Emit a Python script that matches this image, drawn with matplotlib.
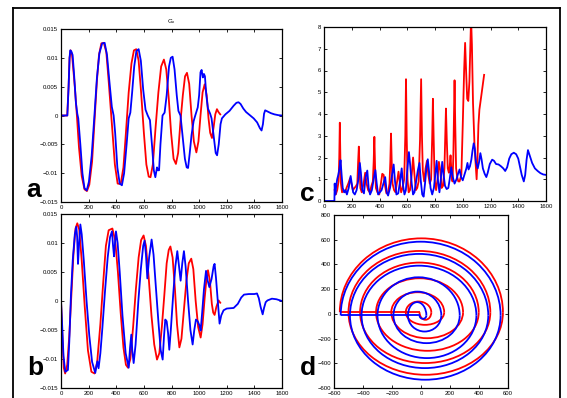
import numpy as np
import matplotlib
matplotlib.use('Agg')
import matplotlib.pyplot as plt
from matplotlib.patches import Arc
from matplotlib.lines import Line2D

plt.rcParams['font.family'] = ['Liberation Sans', 'DejaVu Sans']
plt.rcParams['axes.unicode_minus'] = True

RED = '#ff0000'
BLUE = '#0000ff'

# ---- panel a : G_x (values in units of 1e-3) ----
a_red_t = [0, 45, 55, 62, 70, 80, 100, 115, 130, 150, 170, 188, 205, 225, 245, 260, 275, 292, 310, 328,
           345, 370, 390, 410, 432, 452, 470, 490, 510, 528, 545, 562, 580, 600, 618, 635, 648, 665, 685,
           705, 725, 745, 762, 780, 797, 815, 832, 848, 865, 882, 898, 912, 928, 945, 962, 980, 995, 1010,
           1025, 1040, 1055, 1068, 1080, 1093, 1105, 1117, 1129, 1140, 1153]
a_red_v = [0, 0, 5, 10, 11.3, 10.5, 5, 0, -5.5, -10.5, -12.8, -13.1, -12, -8, 0, 6, 10.5, 12.5, 12.6, 11,
           6, -2, -8.5, -11.8, -11.9, -9, -3, 4, 9, 11.3, 11.5, 9.5, 4, -3, -8.5, -10.6, -10.7, -8.5, -2,
           4, 8.5, 9.7, 8, 3, -3, -7.5, -8.4, -6.5, -1, 3.5, 6.8, 7.4, 5.5, 0, -4.5, -6.4, -4.5, 0,
           4, 5.4, 3.5, -0.5, -3, -3.9, -2, 0.2, 1.1, 0.6, 0.2]
a_blue_t = [0, 46, 55, 62, 67, 75, 84, 95, 108, 118, 125, 140, 155, 170, 186, 202, 222, 242, 260, 278,
            298, 316, 333, 350, 368, 381, 392, 408, 425, 441, 457, 475, 490, 502, 515, 530, 546, 562, 578,
            595, 612, 628, 644, 660, 672, 683, 695, 702, 710, 720, 735, 750, 765, 782, 795, 808, 822, 838,
            850, 865, 880, 897, 910, 920, 932, 945, 960, 972, 990, 1000, 1010, 1018, 1027, 1035, 1042,
            1052, 1064, 1080, 1090, 1105, 1120, 1130, 1142, 1155, 1165, 1190, 1220, 1250, 1270, 1285,
            1300, 1320, 1340, 1370, 1395, 1420, 1440, 1452, 1462, 1470, 1478, 1495, 1520, 1545, 1575, 1600]
a_blue_v = [0, 0, 5, 10, 11.3, 11.1, 10.5, 7, 2.2, 0.3, -0.5, -5, -10, -12.6, -13, -11.5, -7, 0, 6.5, 10.8,
            12.5, 12.6, 10.5, 6, 1.5, 0, -3, -9, -11.8, -12.1, -10, -5, -0.5, 0.5, 4, 8.5, 11.2, 11.5, 9.5,
            4.5, 1, 0, -0.8, -5.5, -9.5, -10.7, -9, -9.5, -9.5, -5, 0, 0.5, 3.5, 8.5, 10, 10.2, 8, 3.5,
            0.8, 0, -3.5, -7.5, -9, -9.1, -6.5, -3.4, -1, 0, 1.4, 3.5, 7.5, 7.9, 6.6, 7.2, 6.8,
            3.5, 1.2, 0.3, -0.5, -3.5, -6.5, -6.9, -5, -1.5, -0.5, 0.2, 0.8, 1.7, 2.2, 2.3,
            2.0, 1.2, 0.6, 0, -0.5, -1.2, -2.2, -2.6, -1.5, 0.3, 0.9, 0.7, 0.4, 0.2, 0.05, 0]

# ---- panel b (units of 1e-3) ----
b_red_t = [0, 10, 20, 30, 45, 60, 75, 90, 105, 118, 132, 150, 172, 195, 220, 243, 262, 285, 305, 325,
           345, 372, 392, 412, 432, 452, 470, 485, 502, 522, 542, 562, 580, 598, 615, 635, 655, 675, 695,
           712, 730, 748, 765, 780, 792, 808, 825, 840, 857, 872, 890, 908, 925, 943, 958, 975, 993, 1011,
           1025, 1040, 1052, 1064, 1078, 1092, 1102, 1112, 1125, 1141, 1153]
b_red_v = [0, -6, -11.5, -12.5, -11, -6, 1, 8, 12.5, 13.4, 12.3, 7, -1, -8.5, -12.2, -12.5, -10.5, -4, 3, 9.5,
           12.2, 12.5, 10.5, 5, -2, -8, -11, -11.5, -10, -4.5, 2, 7.5, 10.5, 11.3, 9.5, 4, -2.5, -7.5, -10.1,
           -9, -4.5, 1, 6.5, 8.8, 9.4, 7.5, 2, -4, -8, -6.5, -1.5, 3.5, 6.5, 7.3, 5.5, 0, -4.5, -6.3,
           -4, 0.5, 3.5, 5.3, 3.5, -0.5, -2, -2.4, -1, 0.1, -0.3]
b_blue_t = [0, 8, 18, 31, 50, 60, 72, 85, 100, 111, 117, 123, 130, 140, 150, 165, 185, 205, 225, 248, 263,
            272, 285, 300, 318, 338, 355, 369, 377, 384, 391, 398, 410, 425, 445, 468, 490, 500, 509, 516,
            526, 540, 560, 578, 595, 605, 615, 625, 638, 656, 670, 685, 705, 722, 736, 746, 755, 765, 775,
            784, 795, 812, 828, 842, 852, 866, 878, 890, 902, 920, 937, 953, 965, 977, 990, 1002, 1011,
            1022, 1035, 1050, 1062, 1074, 1090, 1105, 1112, 1122, 1135, 1148, 1160, 1177, 1200, 1250,
            1280, 1305, 1325, 1360, 1400, 1419, 1432, 1445, 1460, 1470, 1482, 1495, 1527, 1560, 1600]
b_blue_v = [0, -4, -9.5, -12.2, -11.9, -7, 1, 7, 11.5, 12.8, 11, 6.4, 9.5, 13.2, 11.5, 7, 0, -6, -10.5, -12.4, -10.4,
            -11.6, -9, -4.5, 1.5, 7.5, 11, 12, 9.5, 7.7, 10, 12, 10, 5, -2.5, -9, -11.5, -8, -5.8, -8.5,
            -10.7, -7.5, 0, 5.5, 9.5, 10.4, 8, 3.9, 7.5, 10.6, 8, 3, -3.5, -8.5, -10.1, -6, -3.2, -3.5, -5.5,
            -8.4, -5, 1, 6, 8.6, 6.5, 3.5, 6.5, 8.6, 6, 0, -5, -7.5, -5, -3.2, -3.5, -4.2, -5.1,
            -2, 2, 5.2, 3.5, 2.4, 3.8, 6, 6.4, 4, 0, -3.9, -2.5, -1.6, -1.3, -1.2,
            -0.5, 0.6, 1.1, 1.2, 1.2, 1.3, 0.5, -1, -2.3, -1.2, -0.2, 0.1, 0.4, 0.3, 0]

# ---- panel c ----
c_red_t = [77, 85, 95, 105, 110, 114, 118, 122, 130, 142, 152, 162, 175, 188, 198, 208, 220, 232, 240, 246,
           251, 256, 262, 272, 285, 297, 307, 318, 330, 342, 352, 358, 363, 368, 374, 385, 398, 410, 420,
           430, 440, 450, 462, 472, 478, 483, 488, 494, 505, 515, 527, 537, 547, 556, 566, 578, 586, 591,
           596, 602, 610, 620, 632, 642, 652, 662, 672, 682, 692, 700, 706, 712, 722, 732, 742, 752, 762,
           772, 780, 785, 790, 797, 808, 818, 828, 838, 848, 858, 868, 874, 879, 885, 892, 900, 906, 912,
           918, 926, 932, 937, 941, 946, 952, 960, 968, 977, 990, 1000, 1010, 1017, 1024, 1032, 1040,
           1048, 1055, 1060, 1066, 1074, 1085, 1100, 1106, 1113, 1120, 1135, 1154]
c_red_v = [0.5, 0.3, 0.5, 0.9, 2.0, 3.6, 2.0, 0.8, 0.4, 0.5, 0.4, 0.6, 0.8, 1.05, 0.8, 0.5, 0.6, 0.7, 0.8, 1.8,
           2.5, 1.5, 0.6, 0.4, 0.8, 1.3, 0.8, 0.5, 0.4, 0.7, 0.9, 1.8, 2.95, 1.6, 0.6, 0.4, 0.3, 0.8, 1.25,
           1.2, 0.7, 0.35, 0.4, 0.8, 1.8, 3.1, 1.8, 0.8, 0.5, 0.4, 0.9, 1.35, 0.8, 0.4, 0.6, 1.0, 3.0, 5.6,
           3.0, 1.0, 0.4, 0.5, 1.2, 2.0, 1.2, 0.5, 0.6, 0.9, 2.8, 5.6, 3.0, 1.4, 0.9, 1.5, 1.85, 1.2, 0.8,
           1.0, 3.0, 4.7, 3.0, 1.0, 0.5, 1.0, 1.8, 1.4, 0.6, 0.7, 1.5, 3.0, 4.25, 2.8, 1.5, 1.3, 1.6, 2.1,
           1.4, 0.9, 2.0, 4.0, 5.55, 3.5, 1.5, 1.1, 0.9, 0.9, 1.2, 3.5, 6.0, 7.27, 6.0, 4.7, 4.6,
           5.5, 7.2, 8.4, 7.2, 4.5, 2.5, 1.0, 1.9, 3.5, 4.2, 4.9, 5.8]
c_blue_t = [0, 75, 77, 82, 88, 95, 103, 112, 119, 127, 135, 145, 155, 165, 178, 192, 200, 210, 222, 235, 248,
            258, 266, 276, 288, 300, 312, 322, 332, 345, 358, 370, 380, 390, 402, 415, 428, 441, 452, 462,
            476, 490, 502, 512, 522, 535, 548, 560, 570, 580, 590, 600, 612, 622, 632, 642, 652, 664, 676,
            688, 698, 708, 718, 728, 738, 748, 758, 768, 780, 792, 802, 812, 822, 832, 842, 852, 862, 872,
            884, 896, 906, 917, 928, 941, 955, 966, 977, 988, 1000, 1012, 1026, 1034, 1042, 1052, 1062,
            1070, 1079, 1087, 1095, 1108, 1118, 1127, 1136, 1145, 1158, 1170, 1180, 1195, 1212, 1225,
            1240, 1258, 1275, 1292, 1306, 1320, 1335, 1350, 1368, 1385, 1400, 1412, 1425, 1440, 1450,
            1460, 1470, 1482, 1500, 1520, 1540, 1560, 1580, 1600]
c_blue_v = [0, 0, 0.8, 0.3, 0.7, 1.0, 1.2, 1.5, 1.88, 1.2, 0.6, 0.4, 0.5, 0.3, 0.6, 1.15, 0.8, 0.4, 0.3, 0.5, 1.0,
            1.75, 1.3, 0.5, 0.35, 1.1, 1.4, 0.6, 0.3, 0.5, 1.0, 1.42, 0.8, 0.3, 0.4, 0.5, 0.8, 1.1, 0.4, 0.25,
            0.6, 1.2, 1.68, 0.9, 0.3, 0.35, 0.9, 1.5, 0.7, 0.3, 0.5, 1.4, 2.25, 1.6, 0.8, 0.3, 0.4, 0.9, 1.4,
            1.75, 0.9, 0.3, 0.2, 0.8, 1.5, 1.92, 1.3, 0.6, 0.3, 0.6, 1.2, 1.85, 0.9, 0.4, 1.0, 1.8, 1.2, 0.7,
            0.55, 0.6, 1.0, 1.55, 1.1, 0.8, 1.0, 1.25, 1.45, 1.1, 0.95, 1.2, 1.5, 1.75, 1.45, 1.6, 1.9,
            2.3, 2.65, 2.4, 1.8, 1.5, 1.8, 2.2, 1.9, 1.5, 1.25, 1.1, 1.3, 1.7, 1.9, 1.85,
            1.7, 1.68, 1.6, 1.5, 1.38, 1.55, 1.95, 2.15, 2.22, 2.15, 1.95, 1.6, 1.2, 0.9, 1.2,
            1.9, 2.34, 2.1, 1.75, 1.5, 1.38, 1.28, 1.22, 1.2]

# ---- panel d : spiral, read as axis crossings of each turn ----
# left / right crossings of the crossing line, top height and bottom depth of every turn
d_red_line_y = 13
d_red_left = [-560, -500, -420, -310, -205, -105]
d_red_right = [565, 478, 398, 290, 160, 71]
d_red_top = [598, 496, 402, 275, 162, 87]
d_red_bottom = [506, 411, 312, 210, 102, 61]
d_red_end = -10
d_blue_line_y = -13
d_blue_left = [-554, -490, -410, -300, -190, -90]
d_blue_right = [549, 464, 382, 267, 140, 37]
d_blue_top = [597, 498, 403, 309, 193, 108]
d_blue_bottom = [520, 426, 345, 224, 130, 27]
d_blue_end = -10

fig = plt.figure(figsize=(5.67, 3.98), dpi=100)
W, H = 567.0, 398.0


def px_axes(l, t, r, b):
    return fig.add_axes([l / W, 1 - b / H, (r - l) / W, (b - t) / H])


def style(ax):
    ax.tick_params(direction='in', length=2.2, width=0.6, labelsize=4.3, pad=2,
                   top=True, right=True, colors='k')
    for s in ax.spines.values():
        s.set_linewidth(0.9)


ax_a = px_axes(61, 29, 282, 202)
ax_b = px_axes(61, 214, 282, 388)
ax_c = px_axes(324, 27, 546, 201)
ax_d = px_axes(334, 215, 508, 388)

t_ticks = [0, 200, 400, 600, 800, 1000, 1200, 1400, 1600]
g_ticks = [0.015, 0.01, 0.005, 0, -0.005, -0.01, -0.015]
g_labels = ['0.015', '0.01', '0.005', '0', '\u22120.005', '\u22120.01', '\u22120.015']

for ax, rt, rv, bt, bv in [(ax_a, a_red_t, a_red_v, a_blue_t, a_blue_v),
                           (ax_b, b_red_t, b_red_v, b_blue_t, b_blue_v)]:
    ax.plot(rt, np.array(rv) * 1e-3, color=RED, lw=1.3)
    ax.plot(bt, np.array(bv) * 1e-3, color=BLUE, lw=1.3)
    ax.set_xlim(0, 1600)
    ax.set_ylim(-0.015, 0.015)
    ax.set_xticks(t_ticks)
    ax.set_xticklabels([str(v) for v in t_ticks])
    ax.set_yticks(g_ticks)
    ax.set_yticklabels(g_labels)
    style(ax)

ax_a.set_title('G$_\\mathregular{x}$', fontsize=4.5, pad=4)

ax_c.plot(c_red_t, c_red_v, color=RED, lw=1.3)
ax_c.plot(c_blue_t, c_blue_v, color=BLUE, lw=1.3)
ax_c.set_xlim(0, 1600)
ax_c.set_ylim(0, 8)
ax_c.set_xticks(t_ticks)
ax_c.set_xticklabels([str(v) for v in t_ticks])
ax_c.set_yticks(range(9))
style(ax_c)


def draw_spiral(ax, y0, lefts, rights, tops, bottoms, end_x, color, z):
    ax.plot([end_x, lefts[0]], [y0, y0], color=color, lw=1.3, zorder=z, solid_capstyle='butt')
    n = len(lefts)
    for i in range(n):
        l, r = lefts[i], rights[i]
        ax.add_patch(Arc(((l + r) / 2, y0), r - l, 2 * tops[i], theta1=0, theta2=180,
                         color=color, lw=1.3, zorder=z))
        nxt = lefts[i + 1] if i + 1 < n else end_x
        ax.add_patch(Arc(((r + nxt) / 2, y0), r - nxt, 2 * bottoms[i], theta1=180, theta2=360,
                         color=color, lw=1.3, zorder=z))


draw_spiral(ax_d, d_red_line_y, d_red_left, d_red_right, d_red_top, d_red_bottom, d_red_end, RED, 2)
draw_spiral(ax_d, d_blue_line_y, d_blue_left, d_blue_right, d_blue_top, d_blue_bottom, d_blue_end, BLUE, 3)
ax_d.set_xlim(-600, 600)
ax_d.set_ylim(-600, 800)
ax_d.set_xticks(range(-600, 601, 200))
ax_d.set_xticklabels([str(v).replace('-', '\u2212') for v in range(-600, 601, 200)])
ax_d.set_yticks(range(-600, 801, 200))
ax_d.set_yticklabels([str(v).replace('-', '\u2212') for v in range(-600, 801, 200)])
style(ax_d)

# panel letters
for lab, x, y in [('a', 26, 197), ('b', 27, 375), ('c', 300, 201), ('d', 300, 375)]:
    fig.text(x / W, 1 - y / H, lab, fontsize=19, fontweight='bold', va='baseline', ha='left')

# outer frame
fr = dict(color='k', lw=1.3, transform=fig.transFigure)
fig.add_artist(Line2D([13 / W, 13 / W], [-0.01, 1 - 7.5 / H], **fr))
fig.add_artist(Line2D([13 / W, 560 / W], [1 - 7.5 / H, 1 - 7.5 / H], **fr))
fig.add_artist(Line2D([560 / W, 560 / W], [-0.01, 1 - 7.5 / H], **fr))

fig.savefig('out.png', dpi=100)
